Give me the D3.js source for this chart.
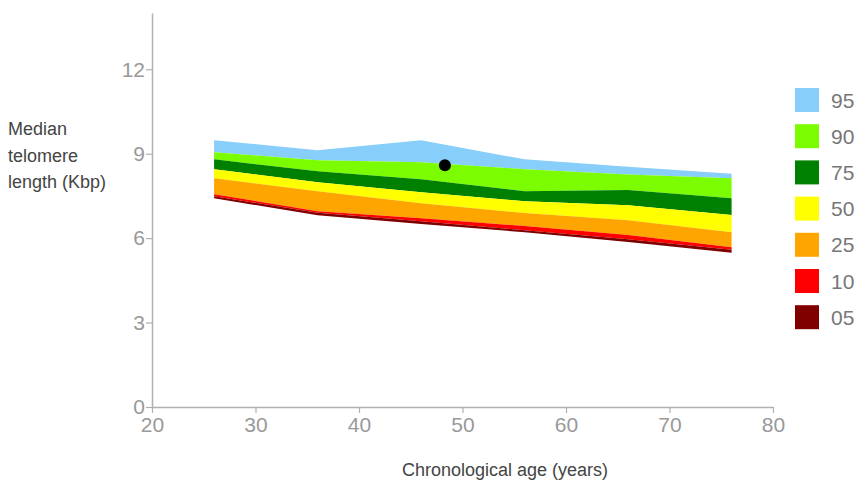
<!DOCTYPE html>
<html>
<head>
<meta charset="utf-8">
<script src="https://cdn.jsdelivr.net/npm/d3@7/dist/d3.min.js"></script>
<style>
  html, body { margin: 0; padding: 0; background: #fff; }
  svg { display: block; font-family: "Liberation Sans", Arial, sans-serif; }
</style>
</head>
<body>
<svg id="chart" width="859" height="483"></svg>
<script>
// ---- data ----
const ages = [26, 36, 46, 56, 66, 76];
// upper boundary of each band (Kbp)
const p95 = [9.48, 9.12, 9.48, 8.80, 8.54, 8.29];
const p90 = [9.05, 8.77, 8.70, 8.45, 8.26, 8.13];
const p75 = [8.80, 8.38, 8.09, 7.67, 7.71, 7.42];
const p50 = [8.45, 7.99, 7.63, 7.31, 7.17, 6.82];
const p25 = [8.13, 7.67, 7.24, 6.89, 6.64, 6.21];
const p10 = [7.56, 6.96, 6.71, 6.43, 6.11, 5.68];
const p05 = [7.49, 6.90, 6.60, 6.28, 5.96, 5.59];
const lowerEdge = [7.42, 6.81, 6.50, 6.21, 5.86, 5.48];
const bandLabels = ["95", "90", "75", "50", "25", "10", "05"];
const bandColors = ["#87CEFA", "#7CFC00", "#008000", "#FFFF00", "#FFA500", "#FF0000", "#800000"];
const xTicks = [20, 30, 40, 50, 60, 70, 80];
const yTicks = [0, 3, 6, 9, 12];
const patientPoint = { age: 48.3, length: 8.59 };

// ---- chart ----
const svg = d3.select("#chart");
const x = d3.scaleLinear().domain([20, 80]).range([152, 773]);
const y = d3.scaleLinear().domain([0, 14]).range([407, 13]);

const bounds = [p95, p90, p75, p50, p25, p10, p05, lowerEdge];
const area = d3.area()
  .x(d => x(d.a))
  .y0(d => y(d.lo))
  .y1(d => y(d.hi));

bandLabels.forEach((lab, i) => {
  const hi = bounds[i], lo = bounds[i + 1];
  const pts = ages.map((a, j) => ({ a, hi: hi[j], lo: lo[j] }));
  svg.append("path")
    .attr("d", area(pts))
    .attr("fill", bandColors[i]);
});

// patient point
svg.append("circle")
  .attr("cx", x(patientPoint.age))
  .attr("cy", y(patientPoint.length))
  .attr("r", 6)
  .attr("fill", "#000");

// axes
const axisColor = "#b0b0b0";
const labelColor = "#999";
const xAxis = svg.append("g")
  .attr("transform", `translate(0,${y(0)})`)
  .call(d3.axisBottom(x).tickValues(xTicks).tickSize(6).tickSizeOuter(0).tickPadding(4));
const yAxis = svg.append("g")
  .attr("transform", `translate(${x(20)},0)`)
  .call(d3.axisLeft(y).tickValues(yTicks).tickSize(6).tickSizeOuter(0).tickPadding(1));
[xAxis, yAxis].forEach(g => {
  g.select(".domain").attr("stroke", axisColor).attr("stroke-width", 1.5);
  g.selectAll(".tick line").attr("stroke", axisColor).attr("stroke-width", 1.2);
  g.selectAll(".tick text")
    .attr("fill", labelColor)
    .style("font-size", "21px")
    .style("font-family", '"Liberation Sans", Arial, sans-serif');
});

// axis titles
svg.append("text")
  .attr("x", 505).attr("y", 476)
  .attr("text-anchor", "middle")
  .attr("fill", "#444")
  .style("font-size", "18px")
  .text("Chronological age (years)");

const yTitle = svg.append("text")
  .attr("fill", "#444")
  .style("font-size", "18px");
["Median", "telomere", "length (Kbp)"].forEach((t, i) => {
  yTitle.append("tspan").attr("x", 8).attr("y", 135 + i * 26.5).text(t);
});

// legend
const legend = svg.append("g");
bandLabels.forEach((lab, i) => {
  const gy = 88 + i * 36.2;
  legend.append("rect")
    .attr("x", 795).attr("y", gy)
    .attr("width", 24).attr("height", 24)
    .attr("fill", bandColors[i]);
  legend.append("text")
    .attr("x", 831).attr("y", gy + 19.5)
    .attr("fill", "#777")
    .style("font-size", "21px")
    .text(lab);
});
</script>
</body>
</html>
